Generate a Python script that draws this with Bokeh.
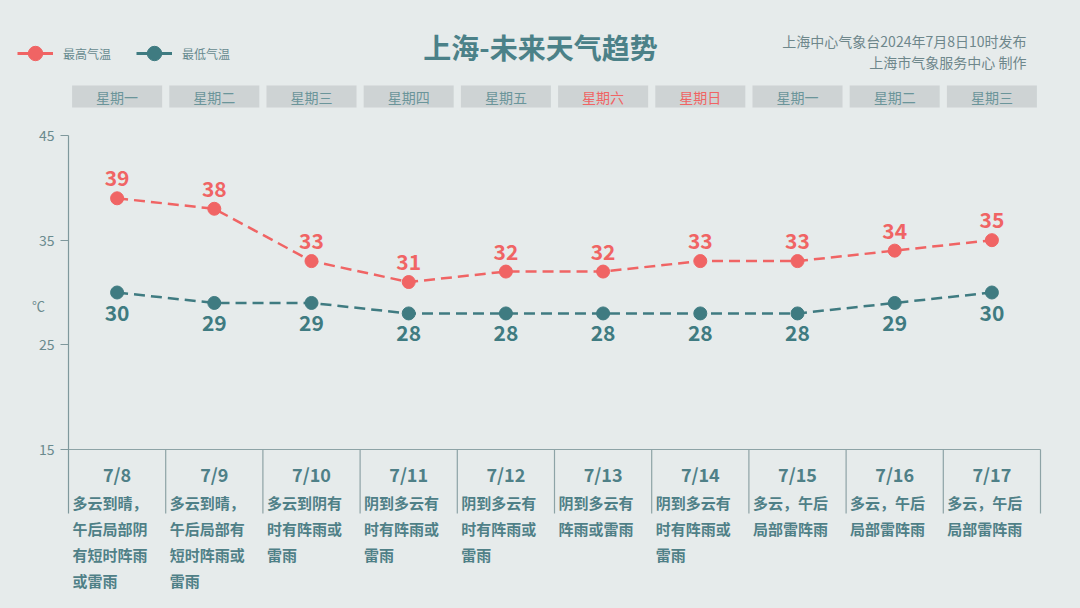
from bokeh.plotting import figure
from bokeh.models import ColumnDataSource, FixedTicker, Legend, LegendItem, Range1d
from bokeh.core.properties import value
from bokeh.embed import file_html
from bokeh.resources import INLINE

# ---------------- data ----------------
dates = ["7/8", "7/9", "7/10", "7/11", "7/12", "7/13", "7/14", "7/15", "7/16", "7/17"]
weekdays = ["星期一", "星期二", "星期三", "星期四", "星期五", "星期六", "星期日", "星期一", "星期二", "星期三"]
high = [39, 38, 33, 31, 32, 32, 33, 33, 34, 35]
low = [30, 29, 29, 28, 28, 28, 28, 28, 29, 30]
weather = [
    "多云到晴，午后局部阴有短时阵雨或雷雨",
    "多云到晴，午后局部有短时阵雨或雷雨",
    "多云到阴有时有阵雨或雷雨",
    "阴到多云有时有阵雨或雷雨",
    "阴到多云有时有阵雨或雷雨",
    "阴到多云有阵雨或雷雨",
    "阴到多云有时有阵雨或雷雨",
    "多云，午后局部雷阵雨",
    "多云，午后局部雷阵雨",
    "多云，午后局部雷阵雨",
]
y_ticks = [15, 25, 35, 45]
y_unit = "℃"
title_text = "上海-未来天气趋势"
source_line1 = "上海中心气象台2024年7月8日10时发布"
source_line2 = "上海市气象服务中心 制作"
series_names = ["最高气温", "最低气温"]

# ---------------- style ----------------
FONT = "Noto Sans CJK SC"
BG = "#E6EBEB"
RED = "#F06464"
TEAL = "#3F7B81"
TXT_TEAL = "#4F8087"
GRID_LINE = "#8DA3A6"

W, H = 1064, 592
LEFT, RIGHT = 68, 1040      # table / axis x extent in pixels
PX = (449 - 135) / 30.0     # pixels per degree
COLW = (RIGHT - LEFT) / 10.0

def yv(py):
    return 15 + (449 - py) / PX

def xv(px):
    return -0.5 + (px - LEFT) / COLW

n = len(dates)
idx = list(range(n))

p = figure(width=W, height=H, output_backend="svg", toolbar_location=None,
           x_range=Range1d(xv(0), xv(W)), y_range=Range1d(yv(H), yv(0)),
           x_axis_type=None, min_border_left=0, min_border_right=0,
           min_border_top=0, min_border_bottom=0)
p.background_fill_color = BG
p.border_fill_color = BG
p.outline_line_color = None
p.xgrid.visible = False
p.ygrid.visible = False

ax = p.yaxis[0]
ax.fixed_location = -0.5
ax.ticker = FixedTicker(ticks=y_ticks)
ax.bounds = (yv(513), 45)
ax.axis_line_color = "#7F989C"
ax.axis_line_width = 1.2
ax.major_tick_line_color = "#7F989C"
ax.major_tick_out = 8
ax.major_tick_in = 0
ax.minor_tick_out = 0
ax.minor_tick_in = 0
ax.major_label_standoff = 6
ax.major_label_text_font = FONT
ax.major_label_text_font_size = "14px"
ax.major_label_text_color = "#6A8A8E"

# unit label next to the axis
p.text(x=[xv(38)], y=[yv(305)], text=[y_unit], text_color="#6A8A8E", text_align="center",
       text_baseline="middle", text_font=value(FONT), text_font_size="13px")

# ---------------- weekday boxes ----------------
wk_colors = [RED if w in ("星期六", "星期日") else "#6B959A" for w in weekdays]
wk_src = ColumnDataSource(dict(x=idx, t=weekdays, c=wk_colors, y=[yv(96)] * n))
p.rect(x="x", y="y", width=90, height=22, width_units="screen", height_units="screen",
       source=wk_src, fill_color="#C9CFD0", fill_alpha=0.85, line_color=None)
p.text(x="x", y="y", text="t", source=wk_src, text_color="c", text_align="center",
       text_baseline="middle", text_font=value(FONT), text_font_size="14px")

# ---------------- table ----------------
edges = [i - 0.5 for i in range(n + 1)]
p.segment(x0=[-0.5], y0=[15], x1=[n - 0.5], y1=[15], line_color=GRID_LINE, line_width=1.2)
p.segment(x0=edges[1:], y0=[15] * n, x1=edges[1:], y1=[yv(513)] * n,
          line_color=GRID_LINE, line_width=1.2)
date_src = ColumnDataSource(dict(x=idx, y=[yv(473)] * n, t=dates))
p.text(x="x", y="y", text="t", source=date_src, text_color=TXT_TEAL, text_align="center",
       text_baseline="middle", text_font=value(FONT), text_font_style="bold",
       text_font_size="18px")

lx, ly, lt = [], [], []
for i, w in enumerate(weather):
    chunks = [w[k:k + 5] for k in range(0, len(w), 5)]
    for j, c in enumerate(chunks):
        lx.append(i - 0.5)
        ly.append(yv(502 + 26 * j))
        lt.append(c)
desc_src = ColumnDataSource(dict(x=lx, y=ly, t=lt))
p.text(x="x", y="y", text="t", source=desc_src, x_offset=4, text_color=TXT_TEAL,
       text_align="left", text_baseline="middle", text_font=value(FONT),
       text_font_style="bold", text_font_size="15px")

# ---------------- series ----------------
src = ColumnDataSource(dict(x=idx, high=high, low=low,
                            hl=[str(v) for v in high], ll=[str(v) for v in low]))
p.line("x", "high", source=src, line_color=RED, line_width=2.5, line_dash="11 6")
p.scatter("x", "high", source=src, size=13, fill_color=RED, line_color=RED)
p.line("x", "low", source=src, line_color=TEAL, line_width=2.5, line_dash="11 6")
p.scatter("x", "low", source=src, size=13, fill_color=TEAL, line_color=TEAL)
p.text(x="x", y="high", text="hl", source=src, y_offset=-20, text_color=RED,
       text_align="center", text_baseline="middle", text_font=value(FONT),
       text_font_style="bold", text_font_size="21px")
p.text(x="x", y="low", text="ll", source=src, y_offset=20, text_color=TEAL,
       text_align="center", text_baseline="middle", text_font=value(FONT),
       text_font_style="bold", text_font_size="21px")

# ---------------- titles ----------------
p.text(x=[xv(540)], y=[yv(46)], text=[title_text], text_color="#4B8188",
       text_align="center", text_baseline="middle", text_font=value(FONT),
       text_font_style="bold", text_font_size="28px")
p.text(x=[xv(1026), xv(1026)], y=[yv(40), yv(61)], text=[source_line1, source_line2],
       text_color="#6E878B", text_align="right", text_baseline="middle",
       text_font=value(FONT), text_font_size="14px")

# ---------------- legend (solid line + big dot, as in the reference) ----------------
nan = float("nan")
proxy = ColumnDataSource(dict(x=[nan], y=[nan]))
lg_h_line = p.line("x", "y", source=proxy, line_color=RED, line_width=3)
lg_h_dot = p.scatter("x", "y", source=proxy, size=15, fill_color=RED, line_color=RED)
lg_l_line = p.line("x", "y", source=proxy, line_color=TEAL, line_width=3)
lg_l_dot = p.scatter("x", "y", source=proxy, size=15, fill_color=TEAL, line_color=TEAL)
legend = Legend(items=[LegendItem(label=series_names[0], renderers=[lg_h_line, lg_h_dot]),
                       LegendItem(label=series_names[1], renderers=[lg_l_line, lg_l_dot])],
                location=(17, H - 72), orientation="horizontal",
                glyph_width=36, glyph_height=38, label_standoff=10, spacing=25,
                padding=0, margin=0, background_fill_alpha=0, border_line_color=None,
                label_text_font=FONT, label_text_font_size="12px",
                label_text_color="#668A8F")
p.add_layout(legend)

html = file_html(p, INLINE, title="上海-未来天气趋势")
html = html.replace("<head>", "<head><style>body{background:#E6EBEB;}</style>", 1)
open("out.html", "w").write(html)
